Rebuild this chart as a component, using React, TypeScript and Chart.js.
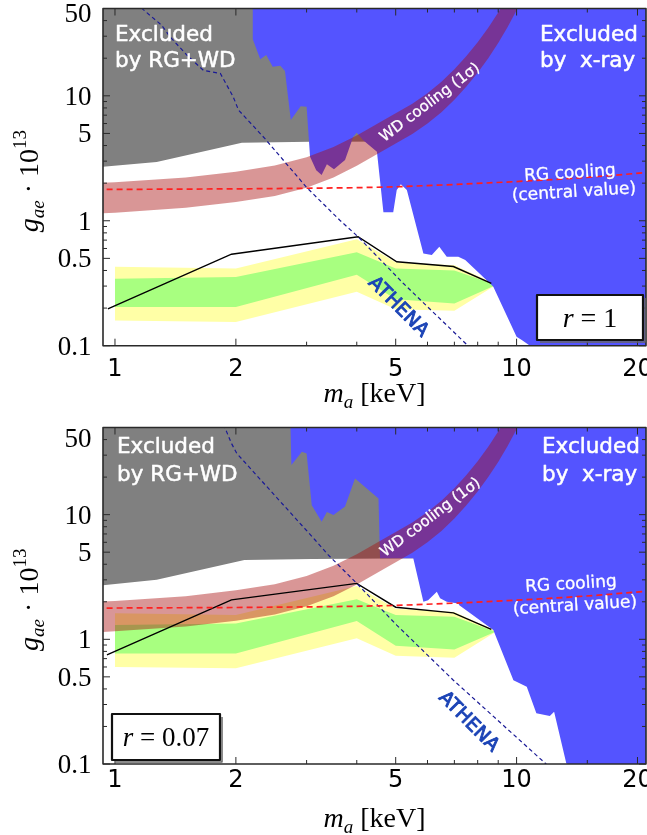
import { useEffect, useRef } from 'react';
import { Chart, registerables } from 'chart.js';

Chart.register(...registerables);

// ---------------- axes ----------------
const X_MIN = 0.9336;
const X_MAX = 21.0;
const Y_MIN = 0.1;
const Y_MAX = 50;
const X_MAJOR = [1, 2, 5, 10, 20];
const X_MAJOR_LABELS = ['1', '2', '5', '10', '20'];
const X_MINOR = [3, 4, 6, 7, 8, 9, 15];
const Y_MAJOR = [0.1, 0.5, 1, 5, 10, 50];
const Y_MAJOR_LABELS = ['0.1', '0.5', '1', '5', '10', '50'];
const Y_MINOR = [0.2, 0.3, 0.4, 0.6, 0.7, 0.8, 0.9, 2, 3, 4, 6, 7, 8, 9, 20, 30, 40];

// ---------------- shared curves ----------------
// RG cooling (central value)
const RG_M = [0.9, 2, 3, 4, 5, 7, 10, 13, 16, 22];
const RG_G = [1.78, 1.8, 1.82, 1.84, 1.87, 1.95, 2.06, 2.16, 2.26, 2.46];
// WD cooling (1 sigma) band
const WD_M = [0.9, 1.0, 1.5, 2.0, 2.5, 3.0, 3.5, 4.0, 4.5, 5.0, 5.5, 6.0, 6.5, 7.0, 7.5, 8.0, 8.5, 9.0, 9.5, 10.0, 10.5, 11.0];
const WD_LO = [1.14, 1.16, 1.27, 1.41, 1.58, 1.84, 2.22, 2.75, 3.42, 4.15, 4.95, 6.0, 7.4, 9.3, 11.9, 15.3, 20, 26.5, 35.6, 48.5, 67, 92];
const WD_HI = [2.0, 2.03, 2.22, 2.47, 2.77, 3.22, 3.89, 4.81, 5.99, 7.26, 8.66, 10.5, 12.95, 16.3, 20.8, 26.8, 35, 46.4, 62, 85, 117, 160];
// sensitivity bands mass grid
const BAND_M = [1, 2, 4, 5, 7, 8.8];

// ---------------- top panel (r = 1) ----------------
const TOP_YELLOW_LO = [0.159, 0.155, 0.27, 0.196, 0.19, 0.3];
const TOP_GREEN_LO = [0.204, 0.204, 0.37, 0.235, 0.218, 0.302];
const TOP_GREEN_HI = [0.344, 0.354, 0.56, 0.415, 0.4, 0.31];
const TOP_YELLOW_HI = [0.428, 0.415, 0.71, 0.466, 0.44, 0.315];
const TOP_LINE_M = [0.96, 1.95, 4.03, 5.03, 6.96, 8.65];
const TOP_LINE_G = [0.197, 0.54, 0.745, 0.47, 0.43, 0.315];
const TOP_ATHENA_M = [1.165, 1.176, 1.307, 1.371, 1.51, 1.66, 1.83, 1.97, 2.03, 2.36, 3.0, 3.63, 4.03, 5.22, 7.59, 8.0];
const TOP_ATHENA_G = [50.6, 49, 36.7, 29.7, 21.2, 16, 15.1, 9.8, 7.7, 4.56, 1.85, 1.01, 0.745, 0.316, 0.099, 0.085];
const TOP_GRAY_M = [0.9, 0.933, 1.27, 2.07, 3.06, 6];
const TOP_GRAY_G = [2.63, 2.7, 2.96, 4.21, 4.28, 4.3];
const TOP_XRAY_M = [2.2, 2.2, 2.3, 2.38, 2.47, 2.58, 2.65, 2.74, 2.9, 3.0, 3.06, 3.17, 3.27, 3.37, 3.51, 3.74, 3.92, 4.0, 4.15, 4.49, 4.66, 4.93, 5.03, 5.15, 5.33, 5.86, 6.15, 6.42, 6.7, 7.16, 7.45, 8.59, 8.75, 10.0, 10.3, 10.8, 25];
const TOP_XRAY_G = [60, 28.8, 19.6, 21.2, 17.1, 17.4, 15.8, 6.4, 8.27, 8.17, 3.25, 2.54, 2.32, 2.84, 2.58, 3.06, 4.7, 5.06, 4.42, 3.56, 1.17, 1.17, 1.76, 1.96, 1.76, 0.548, 0.532, 0.62, 0.515, 0.515, 0.485, 0.315, 0.296, 0.118, 0.111, 0.1, 0.05];

// ---------------- bottom panel (r = 0.07) ----------------
const BOT_YELLOW_LO = [0.6, 0.585, 1.02, 0.74, 0.71, 1.13];
const BOT_GREEN_LO = [0.77, 0.77, 1.4, 0.89, 0.83, 1.14];
const BOT_GREEN_HI = [1.3, 1.34, 2.1, 1.57, 1.52, 1.16];
const BOT_YELLOW_HI = [1.62, 1.57, 2.68, 1.76, 1.66, 1.18];
const BOT_LINE_M = [0.955, 1.95, 4.0, 5.0, 6.96, 8.65];
const BOT_LINE_G = [0.75, 2.07, 2.81, 1.81, 1.63, 1.2];
const BOT_ATHENA_M = [1.86, 1.88, 1.95, 2.01, 3.15, 3.4, 4.0, 5.03, 6.96, 11.8, 12.5];
const BOT_ATHENA_G = [53, 49.5, 37.3, 31.0, 6.26, 4.74, 2.81, 1.3, 0.47, 0.101, 0.085];
const BOT_GRAY_M = [0.9, 0.933, 1.27, 2.1, 3.1, 6];
const BOT_GRAY_G = [2.65, 2.72, 3.0, 4.32, 4.4, 4.46];
const BOT_XRAY_M = [2.73, 2.75, 2.92, 3.0, 3.09, 3.27, 3.37, 3.5, 3.74, 3.96, 4.53, 4.57, 5.53, 5.86, 6.02, 6.33, 6.45, 6.7, 7.16, 7.2, 8.75, 9.82, 10.6, 11.2, 12.1, 12.4, 13.3, 25];
const BOT_XRAY_G = [60, 25.0, 31.9, 31.0, 11.9, 8.77, 10.5, 9.93, 11.6, 19.5, 13.5, 4.46, 4.46, 2.0, 2.06, 2.41, 2.14, 2.0, 1.94, 1.88, 1.19, 0.47, 0.417, 0.255, 0.243, 0.263, 0.101, 0.05];

const SERIF = "'Liberation Serif', 'Times New Roman', serif";
const SANS = "'DejaVu Sans', 'Liberation Sans', sans-serif";

type Run = { t: string; f: string; dy?: number };

function runsWidth(ctx: CanvasRenderingContext2D, runs: Run[]) {
  let w = 0;
  for (const r of runs) {
    ctx.font = r.f;
    w += ctx.measureText(r.t).width;
  }
  return w;
}
function drawRuns(ctx: CanvasRenderingContext2D, runs: Run[], x: number, y: number) {
  let cx = x;
  ctx.textAlign = 'left';
  ctx.textBaseline = 'alphabetic';
  for (const r of runs) {
    ctx.font = r.f;
    ctx.fillText(r.t, cx, y + (r.dy || 0));
    cx += ctx.measureText(r.t).width;
  }
}
function heavyText(ctx: CanvasRenderingContext2D, t: string, x: number, y: number, w: number) {
  ctx.fillText(t, x, y);
  ctx.lineWidth = w;
  ctx.lineJoin = 'round';
  ctx.strokeText(t, x, y);
}

const zip = (m: number[], g: number[]) => m.map((v, i) => ({ x: v, y: g[i] }));

interface PanelData {
  yl: number[]; gl: number[]; gh: number[]; yh: number[];
  lineM: number[]; lineG: number[];
  athM: number[]; athG: number[];
  grayM: number[]; grayG: number[];
  xrayM: number[]; xrayG: number[];
}
interface PanelStyle {
  height: number; padTop: number; padBottom: number;
  y50Shift: number; xLabelBase: number; xTitleBase: number;
  excl: [number, number, string][];
  rg: [number, number][];
  wd: [number, number];
  athena: [number, number];
  box: { x: number; y: number; w: number; h: number; label: string; size: number };
}

const TOP_DATA: PanelData = {
  yl: TOP_YELLOW_LO, gl: TOP_GREEN_LO, gh: TOP_GREEN_HI, yh: TOP_YELLOW_HI,
  lineM: TOP_LINE_M, lineG: TOP_LINE_G, athM: TOP_ATHENA_M, athG: TOP_ATHENA_G,
  grayM: TOP_GRAY_M, grayG: TOP_GRAY_G, xrayM: TOP_XRAY_M, xrayG: TOP_XRAY_G,
};
const BOT_DATA: PanelData = {
  yl: BOT_YELLOW_LO, gl: BOT_GREEN_LO, gh: BOT_GREEN_HI, yh: BOT_YELLOW_HI,
  lineM: BOT_LINE_M, lineG: BOT_LINE_G, athM: BOT_ATHENA_M, athG: BOT_ATHENA_G,
  grayM: BOT_GRAY_M, grayG: BOT_GRAY_G, xrayM: BOT_XRAY_M, xrayG: BOT_XRAY_G,
};

const TOP_STYLE: PanelStyle = {
  height: 418, padTop: 8.5, padBottom: 72.3,
  y50Shift: 4, xLabelBase: 375.5, xTitleBase: 401.7,
  excl: [[115, 40.7, 'Excluded'], [115, 67, 'by RG+WD'], [540, 40.7, 'Excluded'], [540, 67, 'by  x-ray']],
  rg: [[570, 173.5], [574, 192.5]],
  wd: [6.09, 8.79],
  athena: [5.07, 0.204],
  box: { x: 537, y: 295, w: 106, h: 45, label: ' = 1', size: 28 },
};
const BOT_STYLE: PanelStyle = {
  height: 417, padTop: 9.5, padBottom: 71,
  y50Shift: 10.5, xLabelBase: 368.7, xTitleBase: 408.7,
  excl: [[117, 35.3, 'Excluded'], [117, 62.5, 'by RG+WD'], [542, 35.3, 'Excluded'], [542, 62.5, 'by  x-ray']],
  rg: [[571, 166.5], [575, 188]],
  wd: [6.11, 9.44],
  athena: [7.59, 0.218],
  box: { x: 112, y: 296, w: 108, h: 46, label: ' = 0.07', size: 27 },
};

function decorPlugin(s: PanelStyle) {
  return {
    id: 'decor',
    afterDraw(chart: any) {
      const ctx: CanvasRenderingContext2D = chart.ctx;
      const a = chart.chartArea;
      const xs = chart.scales.x;
      const ys = chart.scales.y;
      ctx.save();

      // region labels
      ctx.fillStyle = '#ffffff';
      ctx.strokeStyle = '#ffffff';
      ctx.textAlign = 'left';
      ctx.textBaseline = 'alphabetic';
      ctx.font = `21.5px ${SANS}`;
      for (const [x, y, t] of s.excl) heavyText(ctx, t, x, y, 0.5);

      // RG cooling label
      ctx.font = `17px ${SANS}`;
      ctx.textAlign = 'center';
      ctx.textBaseline = 'middle';
      const rgTexts = ['RG cooling', '(central value)'];
      s.rg.forEach(([x, y], i) => {
        ctx.save();
        ctx.translate(x, y);
        ctx.rotate(-3.5 * Math.PI / 180);
        heavyText(ctx, rgTexts[i], 0, 0, 0.3);
        ctx.restore();
      });

      // WD cooling label
      ctx.save();
      ctx.translate(xs.getPixelForValue(s.wd[0]), ys.getPixelForValue(s.wd[1]));
      ctx.rotate(-37 * Math.PI / 180);
      ctx.font = `15px ${SANS}`;
      heavyText(ctx, 'WD cooling (1\u03C3)', 0, 0, 0.3);
      ctx.restore();

      // ATHENA label
      ctx.save();
      ctx.translate(xs.getPixelForValue(s.athena[0]), ys.getPixelForValue(s.athena[1]));
      ctx.rotate(45 * Math.PI / 180);
      ctx.font = `19px ${SANS}`;
      ctx.fillStyle = '#1c44b6';
      ctx.strokeStyle = '#1c44b6';
      heavyText(ctx, 'ATHENA', 0, 0, 0.9);
      ctx.restore();

      // frame
      ctx.strokeStyle = '#2a2a2a';
      ctx.lineWidth = 1.6;
      ctx.strokeRect(a.left, a.top, a.right - a.left, a.bottom - a.top);

      // ticks (inward, all four sides)
      ctx.lineWidth = 1;
      ctx.beginPath();
      const xt = (v: number, L: number) => {
        const x = xs.getPixelForValue(v);
        ctx.moveTo(x, a.bottom); ctx.lineTo(x, a.bottom - L);
        ctx.moveTo(x, a.top); ctx.lineTo(x, a.top + L);
      };
      const yt = (v: number, L: number) => {
        const y = ys.getPixelForValue(v);
        ctx.moveTo(a.left, y); ctx.lineTo(a.left + L, y);
        ctx.moveTo(a.right, y); ctx.lineTo(a.right - L, y);
      };
      X_MAJOR.forEach(v => xt(v, 7));
      X_MINOR.forEach(v => xt(v, 4));
      Y_MAJOR.forEach(v => yt(v, 7));
      Y_MINOR.forEach(v => yt(v, 4));
      ctx.stroke();

      // tick labels
      ctx.fillStyle = '#000';
      ctx.textBaseline = 'alphabetic';
      ctx.textAlign = 'center';
      ctx.font = `24px ${SANS}`;
      X_MAJOR.forEach((v, i) => ctx.fillText(X_MAJOR_LABELS[i], xs.getPixelForValue(v), s.xLabelBase));
      ctx.textAlign = 'right';
      ctx.font = `27px ${SERIF}`;
      Y_MAJOR.forEach((v, i) => {
        const shift = v === 50 ? s.y50Shift : 0;
        ctx.fillText(Y_MAJOR_LABELS[i], 91.5, ys.getPixelForValue(v) + 9 + shift);
      });

      // x title
      const xRuns: Run[] = [
        { t: 'm', f: `italic 28px ${SERIF}` },
        { t: 'a', f: `italic 19px ${SERIF}`, dy: 6 },
        { t: ' [keV]', f: `28px ${SERIF}` },
      ];
      const xw = runsWidth(ctx, xRuns);
      drawRuns(ctx, xRuns, (a.left + a.right) / 2 - xw / 2, s.xTitleBase);

      // y title
      ctx.save();
      ctx.translate(37.5, (a.top + a.bottom) / 2 + 4);
      ctx.rotate(-Math.PI / 2);
      const yRuns: Run[] = [
        { t: 'g', f: `italic 28px ${SERIF}` },
        { t: 'ae', f: `italic 19px ${SERIF}`, dy: 6 },
        { t: ' \u00B7 10', f: `28px ${SERIF}` },
        { t: '13', f: `19px ${SERIF}`, dy: -12 },
      ];
      const yw = runsWidth(ctx, yRuns);
      drawRuns(ctx, yRuns, -yw / 2, 0);
      ctx.restore();

      // r box
      const b = s.box;
      ctx.fillStyle = '#fff';
      ctx.fillRect(b.x, b.y, b.w, b.h);
      ctx.strokeStyle = '#111';
      ctx.lineWidth = 2.2;
      ctx.strokeRect(b.x, b.y, b.w, b.h);
      ctx.strokeStyle = '#666';
      ctx.lineWidth = 1.5;
      ctx.beginPath();
      ctx.moveTo(b.x + 3, b.y + b.h + 2);
      ctx.lineTo(b.x + b.w + 2, b.y + b.h + 2);
      ctx.lineTo(b.x + b.w + 2, b.y + 3);
      ctx.stroke();
      ctx.fillStyle = '#000';
      const rRuns: Run[] = [
        { t: 'r', f: `italic ${b.size}px ${SERIF}` },
        { t: b.label, f: `${b.size}px ${SERIF}` },
      ];
      const rw = runsWidth(ctx, rRuns);
      drawRuns(ctx, rRuns, b.x + b.w / 2 - rw / 2, b.y + b.h / 2 + 9);

      ctx.restore();
    },
  };
}

function buildConfig(d: PanelData, s: PanelStyle): any {
  const base = { pointRadius: 0, pointHoverRadius: 0, pointHitRadius: 0, tension: 0, borderWidth: 0, borderColor: 'transparent' };
  return {
    type: 'line',
    data: {
      datasets: [
        { ...base, data: zip(RG_M, RG_G), borderColor: '#ff1f1f', borderWidth: 1.7, borderDash: [6, 4], fill: false, order: 1 },
        { ...base, data: zip(d.athM, d.athG), borderColor: '#1a1a96', borderWidth: 1.2, borderDash: [4, 3], fill: false, order: 1 },
        { ...base, data: zip(d.lineM, d.lineG), borderColor: '#000000', borderWidth: 1.4, fill: false, order: 1 },
        { ...base, data: zip(WD_M, WD_HI), fill: '+1', backgroundColor: 'rgba(167,12,12,0.43)', order: 5 },
        { ...base, data: zip(WD_M, WD_LO), fill: false, order: 5 },
        { ...base, data: zip(d.xrayM, d.xrayG), fill: 'end', backgroundColor: '#5454ff', order: 6 },
        { ...base, data: zip(d.grayM, d.grayG), fill: 'end', backgroundColor: '#808080', order: 7 },
        { ...base, data: zip(BAND_M, d.gh), fill: '+1', backgroundColor: '#a8ff80', order: 8 },
        { ...base, data: zip(BAND_M, d.gl), fill: false, order: 8 },
        { ...base, data: zip(BAND_M, d.yh), fill: '+1', backgroundColor: '#ffffa6', order: 9 },
        { ...base, data: zip(BAND_M, d.yl), fill: false, order: 9 },
      ],
    },
    options: {
      animation: false,
      responsive: false,
      devicePixelRatio: 1,
      events: [],
      layout: { padding: { left: 103, right: 1, top: s.padTop, bottom: s.padBottom } },
      scales: {
        x: { type: 'logarithmic', min: X_MIN, max: X_MAX, display: false, bounds: 'data' },
        y: { type: 'logarithmic', min: Y_MIN, max: Y_MAX, display: false, bounds: 'data' },
      },
      plugins: { legend: { display: false }, tooltip: { enabled: false }, title: { display: false } },
    },
    plugins: [decorPlugin(s)],
  };
}

export default function App() {
  const topRef = useRef<HTMLCanvasElement>(null);
  const botRef = useRef<HTMLCanvasElement>(null);
  useEffect(() => {
    const c1 = new Chart(topRef.current as HTMLCanvasElement, buildConfig(TOP_DATA, TOP_STYLE));
    const c2 = new Chart(botRef.current as HTMLCanvasElement, buildConfig(BOT_DATA, BOT_STYLE));
    return () => {
      c1.destroy();
      c2.destroy();
    };
  }, []);
  return (
    <div style={{ position: 'absolute', left: 0, top: 0, width: 647, height: 835, background: '#fff', overflow: 'hidden' }}>
      <canvas ref={topRef} width={647} height={418} style={{ display: 'block', width: 647, height: 418 }} />
      <canvas ref={botRef} width={647} height={417} style={{ display: 'block', width: 647, height: 417 }} />
    </div>
  );
}
